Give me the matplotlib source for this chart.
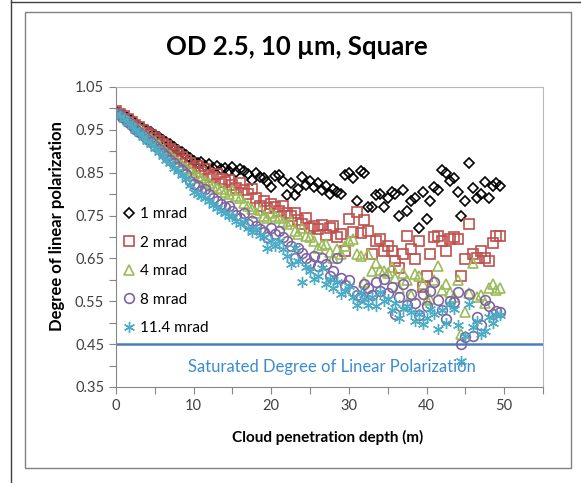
import matplotlib.pyplot as plt
from matplotlib.lines import Line2D
from matplotlib.patches import Rectangle

plt.rcParams['font.family'] = ['Lato', 'DejaVu Sans']

# Data (depth in m, 0.5 m steps)
depth = [0.0, 0.5, 1.0, 1.5, 2.0, 2.5, 3.0, 3.5, 4.0, 4.5,
         5.0, 5.5, 6.0, 6.5, 7.0, 7.5, 8.0, 8.5, 9.0, 9.5,
         10.0, 10.5, 11.0, 11.5, 12.0, 12.5, 13.0, 13.5, 14.0, 14.5,
         15.0, 15.5, 16.0, 16.5, 17.0, 17.5, 18.0, 18.5, 19.0, 19.5,
         20.0, 20.5, 21.0, 21.5, 22.0, 22.5, 23.0, 23.5, 24.0, 24.5,
         25.0, 25.5, 26.0, 26.5, 27.0, 27.5, 28.0, 28.5, 29.0, 29.5,
         30.0, 30.5, 31.0, 31.5, 32.0, 32.5, 33.0, 33.5, 34.0, 34.5,
         35.0, 35.5, 36.0, 36.5, 37.0, 37.5, 38.0, 38.5, 39.0, 39.5,
         40.0, 40.5, 41.0, 41.5, 42.0, 42.5, 43.0, 43.5, 44.0, 44.5,
         45.0, 45.5, 46.0, 46.5, 47.0, 47.5, 48.0, 48.5, 49.0, 49.5]

dolp_1mrad = [0.995, 0.990, 0.984, 0.978, 0.972, 0.966, 0.960, 0.955, 0.949, 0.944,
              0.938, 0.933, 0.927, 0.921, 0.916, 0.910, 0.904, 0.898, 0.892, 0.884,
              0.878, 0.872, 0.876, 0.866, 0.870, 0.861, 0.866, 0.858, 0.862, 0.855,
              0.863, 0.852, 0.858, 0.854, 0.846, 0.833, 0.850, 0.840, 0.837, 0.828,
              0.816, 0.842, 0.844, 0.830, 0.797, 0.825, 0.797, 0.812, 0.840, 0.822,
              0.830, 0.816, 0.826, 0.809, 0.818, 0.800, 0.812, 0.806, 0.800, 0.844,
              0.849, 0.838, 0.785, 0.854, 0.850, 0.771, 0.770, 0.797, 0.800, 0.770,
              0.790, 0.805, 0.800, 0.750, 0.810, 0.760, 0.785, 0.790, 0.720, 0.805,
              0.743, 0.785, 0.816, 0.810, 0.856, 0.850, 0.830, 0.837, 0.804, 0.750,
              0.785, 0.873, 0.814, 0.790, 0.800, 0.828, 0.790, 0.820, 0.826, 0.820]

dolp_2mrad = [0.993, 0.988, 0.982, 0.975, 0.968, 0.962, 0.956, 0.950, 0.943, 0.937,
              0.932, 0.925, 0.918, 0.912, 0.906, 0.900, 0.893, 0.886, 0.880, 0.872,
              0.861, 0.866, 0.852, 0.858, 0.845, 0.840, 0.848, 0.836, 0.828, 0.833,
              0.822, 0.815, 0.825, 0.809, 0.800, 0.812, 0.790, 0.773, 0.785, 0.768,
              0.776, 0.769, 0.760, 0.772, 0.757, 0.748, 0.757, 0.740, 0.730, 0.745,
              0.720, 0.726, 0.718, 0.728, 0.705, 0.722, 0.726, 0.700, 0.707, 0.667,
              0.743, 0.712, 0.758, 0.710, 0.740, 0.714, 0.660, 0.690, 0.695, 0.667,
              0.680, 0.667, 0.643, 0.627, 0.660, 0.703, 0.672, 0.648, 0.690, 0.584,
              0.608, 0.660, 0.700, 0.703, 0.690, 0.667, 0.695, 0.700, 0.695, 0.608,
              0.648, 0.730, 0.660, 0.650, 0.667, 0.650, 0.643, 0.686, 0.703, 0.703]

dolp_4mrad = [0.992, 0.986, 0.979, 0.972, 0.965, 0.958, 0.951, 0.944, 0.936, 0.929,
              0.922, 0.914, 0.906, 0.899, 0.891, 0.883, 0.876, 0.868, 0.861, 0.856,
              0.848, 0.843, 0.837, 0.830, 0.826, 0.820, 0.815, 0.812, 0.805, 0.800,
              0.809, 0.795, 0.790, 0.780, 0.772, 0.766, 0.755, 0.762, 0.750, 0.745,
              0.755, 0.748, 0.745, 0.735, 0.730, 0.738, 0.714, 0.707, 0.720, 0.703,
              0.700, 0.690, 0.674, 0.682, 0.684, 0.665, 0.650, 0.672, 0.660, 0.680,
              0.690, 0.695, 0.660, 0.655, 0.596, 0.660, 0.620, 0.640, 0.624, 0.620,
              0.615, 0.630, 0.605, 0.580, 0.615, 0.600, 0.565, 0.613, 0.610, 0.590,
              0.553, 0.556, 0.600, 0.632, 0.577, 0.590, 0.572, 0.560, 0.600, 0.473,
              0.525, 0.570, 0.640, 0.560, 0.565, 0.545, 0.580, 0.590, 0.577, 0.580]

dolp_8mrad = [0.990, 0.984, 0.977, 0.969, 0.961, 0.953, 0.945, 0.937, 0.929, 0.921,
              0.913, 0.905, 0.896, 0.888, 0.880, 0.872, 0.864, 0.856, 0.846, 0.830,
              0.823, 0.818, 0.808, 0.812, 0.800, 0.792, 0.785, 0.778, 0.769, 0.772,
              0.760, 0.752, 0.745, 0.755, 0.730, 0.738, 0.725, 0.718, 0.712, 0.700,
              0.720, 0.708, 0.714, 0.700, 0.690, 0.680, 0.650, 0.674, 0.662, 0.650,
              0.640, 0.655, 0.632, 0.650, 0.638, 0.610, 0.620, 0.650, 0.605, 0.589,
              0.600, 0.575, 0.565, 0.560, 0.590, 0.580, 0.565, 0.596, 0.575, 0.603,
              0.570, 0.584, 0.520, 0.560, 0.591, 0.542, 0.568, 0.545, 0.518, 0.568,
              0.540, 0.575, 0.596, 0.553, 0.530, 0.509, 0.550, 0.549, 0.572, 0.450,
              0.466, 0.568, 0.470, 0.513, 0.494, 0.553, 0.540, 0.520, 0.527, 0.525]

dolp_11mrad = [0.988, 0.982, 0.975, 0.967, 0.958, 0.950, 0.942, 0.933, 0.925, 0.916,
               0.907, 0.898, 0.889, 0.880, 0.872, 0.862, 0.853, 0.844, 0.835, 0.822,
               0.806, 0.800, 0.795, 0.790, 0.785, 0.775, 0.768, 0.760, 0.755, 0.748,
               0.750, 0.738, 0.730, 0.735, 0.720, 0.712, 0.719, 0.705, 0.700, 0.674,
               0.690, 0.680, 0.690, 0.672, 0.655, 0.636, 0.674, 0.645, 0.596, 0.630,
               0.620, 0.603, 0.610, 0.627, 0.590, 0.603, 0.580, 0.595, 0.568, 0.573,
               0.585, 0.560, 0.542, 0.570, 0.555, 0.542, 0.560, 0.540, 0.572, 0.550,
               0.556, 0.530, 0.545, 0.510, 0.532, 0.540, 0.525, 0.505, 0.520, 0.497,
               0.510, 0.532, 0.520, 0.485, 0.530, 0.500, 0.544, 0.532, 0.494, 0.410,
               0.470, 0.544, 0.490, 0.505, 0.473, 0.480, 0.513, 0.500, 0.518, 0.518]

series_labels = ['1 mrad', '2 mrad', '4 mrad', '8 mrad', '11.4 mrad']
saturated_dolp = 0.45

x_ticks = [0, 5, 10, 15, 20, 25, 30, 35, 40, 45, 50, 55]
x_ticklabels = ['0', '', '10', '', '20', '', '30', '', '40', '', '50', '']
y_ticks = [0.35, 0.40, 0.45, 0.50, 0.55, 0.60, 0.65, 0.70, 0.75, 0.80, 0.85, 0.90, 0.95, 1.00, 1.05]
y_ticklabels = ['0.35', '', '0.45', '', '0.55', '', '0.65', '', '0.75', '', '0.85', '', '0.95', '', '1.05']

W, H = 581, 483
fig = plt.figure(figsize=(W / 100, H / 100), dpi=100)

# outer frame lines and chart box
fig.add_artist(Line2D([11 / W, 11 / W], [0, 1], color='#404040', lw=1.0))
fig.add_artist(Line2D([11 / W, 1], [1 - 1.5 / H, 1 - 1.5 / H], color='#404040', lw=1.0))
fig.add_artist(Rectangle((25 / W, 1 - 468 / H), (571 - 25) / W, (468 - 12) / H,
                         fill=False, ec='#808080', lw=1.0))

ax = fig.add_axes([116 / W, 1 - 387 / H, (543 - 116) / W, (387 - 87) / H])

# marker, colour, size, edge width
styles = [('D', 'black', 5.5, 1.2),
          ('s', '#c0504d', 7, 1.2),
          ('^', '#9bbb59', 7.5, 1.2),
          ('o', '#8064a2', 7, 1.2),
          ((6, 2, 0), '#4bacc6', 8, 1.0)]
all_series = [dolp_1mrad, dolp_2mrad, dolp_4mrad, dolp_8mrad, dolp_11mrad]
for vals, lab, (m, c, ms, mw) in zip(all_series, series_labels, styles):
    ax.plot(depth, vals, linestyle='none', marker=m, mfc='none', mec=c,
            ms=ms, mew=mw, label=lab)

ax.axhline(saturated_dolp, color='#4a7ebb', lw=1.8, zorder=1)
ax.text(27.8, 0.397, 'Saturated Degree of Linear Polarization', color='#3a8bd1',
        ha='center', va='center', fontsize=12)

ax.set_xlim(0, 55)
ax.set_ylim(0.35, 1.05)
ax.set_xticks(x_ticks)
ax.set_xticklabels(x_ticklabels)
ax.set_yticks(y_ticks)
ax.set_yticklabels(y_ticklabels)
ax.tick_params(direction='out', length=5, color='#868686', labelcolor='#404040',
               labelsize=10.5, width=0.8)
for side in ['left', 'bottom']:
    ax.spines[side].set_color('#868686')
for side in ['top', 'right']:
    ax.spines[side].set_color('#b8b8b8')

leg = ax.legend(loc='upper left', bbox_to_anchor=(0.015, 0.60), frameon=False,
                handlelength=0.8, handletextpad=0.35, labelspacing=0.95,
                fontsize=11, borderaxespad=0, borderpad=0)

fig.text(297 / W, 1 - 47 / H, 'OD 2.5, 10 µm, Square', ha='center', va='center',
         fontsize=18.5, fontweight='bold')
fig.text(57 / W, 1 - 226 / H, 'Degree of linear polarization', ha='center', va='center',
         rotation=90, fontsize=12, fontweight='bold')
fig.text(328 / W, 1 - 437 / H, 'Cloud penetration depth (m)', ha='center', va='center',
         fontsize=11, fontweight='bold')

fig.savefig('out.png', dpi=100)
